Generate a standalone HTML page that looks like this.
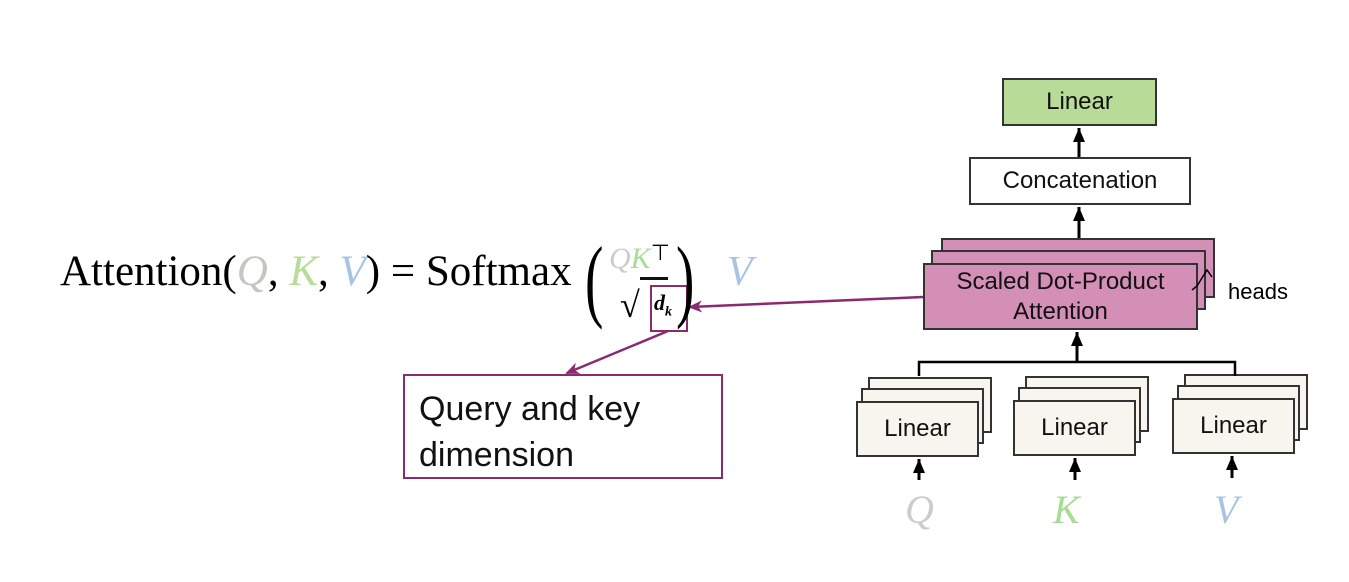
<!DOCTYPE html>
<html><head><meta charset="utf-8"><style>
body{margin:0;width:1349px;height:582px;background:#fff;overflow:hidden;position:relative;font-family:"Liberation Sans",sans-serif}
.b{position:absolute;box-sizing:border-box;border:2px solid #333;display:flex;align-items:center;justify-content:center;text-align:center;color:#111}
.m{position:absolute;font-family:"Liberation Serif",serif;font-size:40px;white-space:nowrap}
</style></head><body>
<div class="b" style="left:1002px;top:78px;width:155px;height:48px;background:#b8dc98;font-size:24px">Linear</div>
<div class="b" style="left:969px;top:157px;width:222px;height:48px;background:#fff;font-size:24px">Concatenation</div>
<div class="b" style="left:941px;top:238px;width:274px;height:60px;background:#d48fb6"></div>
<div class="b" style="left:931px;top:250px;width:275px;height:60px;background:#d48fb6"></div>
<div class="b" style="left:923px;top:263px;width:275px;height:67px;background:#d48fb6;font-size:24px;line-height:30px">Scaled Dot-Product<br>Attention</div>
<div style="position:absolute;left:1228px;top:279px;font-size:22px">heads</div>

<div class="b" style="left:868px;top:377px;width:124px;height:56px;background:#f8f5ef"></div>
<div class="b" style="left:861px;top:388px;width:123px;height:56px;background:#f8f5ef"></div>
<div class="b" style="left:856px;top:401px;width:123px;height:56px;background:#f8f5ef;font-size:24px">Linear</div>
<div class="b" style="left:1025px;top:376px;width:124px;height:56px;background:#f8f5ef"></div>
<div class="b" style="left:1018px;top:387px;width:123px;height:56px;background:#f8f5ef"></div>
<div class="b" style="left:1013px;top:400px;width:123px;height:56px;background:#f8f5ef;font-size:24px">Linear</div>
<div class="b" style="left:1184px;top:374px;width:124px;height:56px;background:#f8f5ef"></div>
<div class="b" style="left:1177px;top:385px;width:123px;height:56px;background:#f8f5ef"></div>
<div class="b" style="left:1172px;top:398px;width:123px;height:56px;background:#f8f5ef;font-size:24px">Linear</div>

<svg width="1349" height="582" style="position:absolute;left:0;top:0">
<defs>
<marker id="a" markerWidth="12" markerHeight="14" refX="6" refY="0" orient="0" markerUnits="userSpaceOnUse"><path d="M0,14 L6,0 L12,14z" fill="#000"/></marker>
<marker id="p" markerWidth="14" markerHeight="12" refX="12" refY="6" orient="auto" markerUnits="userSpaceOnUse"><path d="M0,0 L14,6 L0,12 L4,6z" fill="#8b2a6e"/></marker>
</defs>
<g stroke="#000" stroke-width="3" fill="none">
<line x1="1079" y1="157" x2="1079" y2="128" marker-end="url(#a)"/>
<line x1="1079" y1="238" x2="1079" y2="207" marker-end="url(#a)"/>
<line x1="1077" y1="362" x2="1077" y2="332" marker-end="url(#a)"/>
<polyline points="919,376 919,362 1235,362 1235,376" stroke-width="2.5"/>
<line x1="919" y1="480" x2="919" y2="459" marker-end="url(#a)"/>
<line x1="1075" y1="480" x2="1075" y2="458" marker-end="url(#a)"/>
<line x1="1232" y1="478" x2="1232" y2="456" marker-end="url(#a)"/>
</g>
<g stroke="#8b2a6e" stroke-width="2.5" fill="none">
<line x1="923" y1="297" x2="690" y2="307" marker-end="url(#p)"/>
<line x1="668" y1="331" x2="567" y2="373" marker-end="url(#p)"/>
<rect x="651" y="286" width="36" height="45" stroke-width="2"/>
</g>
<path d="M1192,290 L1197,286 L1207,270 L1212,277" stroke="#000" stroke-width="1.5" fill="none"/>
</svg>

<div class="m" style="left:905px;top:486px;color:#ccc;font-style:italic">Q</div>
<div class="m" style="left:1053px;top:486px;color:#a6dc94;font-style:italic">K</div>
<div class="m" style="left:1214px;top:486px;color:#a8c4e4;font-style:italic">V</div>

<div class="m" style="left:60px;top:247px;font-size:43px">Attention(<i style="color:#c8c4c0">Q</i>, <i style="color:#b6dc98">K</i>, <i style="color:#a8c4e4">V</i>) = Softmax</div>
<div class="m" style="left:585px;top:226px;font-size:92px;font-weight:100;transform:scaleX(0.6);transform-origin:left">(</div>
<div class="m" style="left:676px;top:226px;font-size:92px;font-weight:100;transform:scaleX(0.6);transform-origin:left">)</div>
<div class="m" style="left:609px;top:240px;font-size:30px"><i style="color:#ccc">Q</i><i style="color:#a6dc94">K</i><span style="font-family:'Liberation Sans';font-size:22px;vertical-align:8px">⊤</span></div>
<div style="position:absolute;left:640px;top:277px;width:28px;height:3px;background:#111"></div>
<div class="m" style="left:620px;top:284px;font-size:36px;font-weight:bold">√</div>
<div class="m" style="left:654px;top:290px;font-size:22px;font-style:italic;font-weight:bold">d<sub style="font-size:14px">k</sub></div>
<div class="m" style="left:727px;top:248px;color:#a8c4e4;font-style:italic;font-size:42px">V</div>

<div class="b" style="left:403px;top:374px;width:320px;height:105px;border-color:#8b2a6e;justify-content:flex-start;align-items:flex-start;text-align:left;padding:10px 0 0 14px;font-size:34px;line-height:46px">Query and key<br>dimension</div>
</body></html>
